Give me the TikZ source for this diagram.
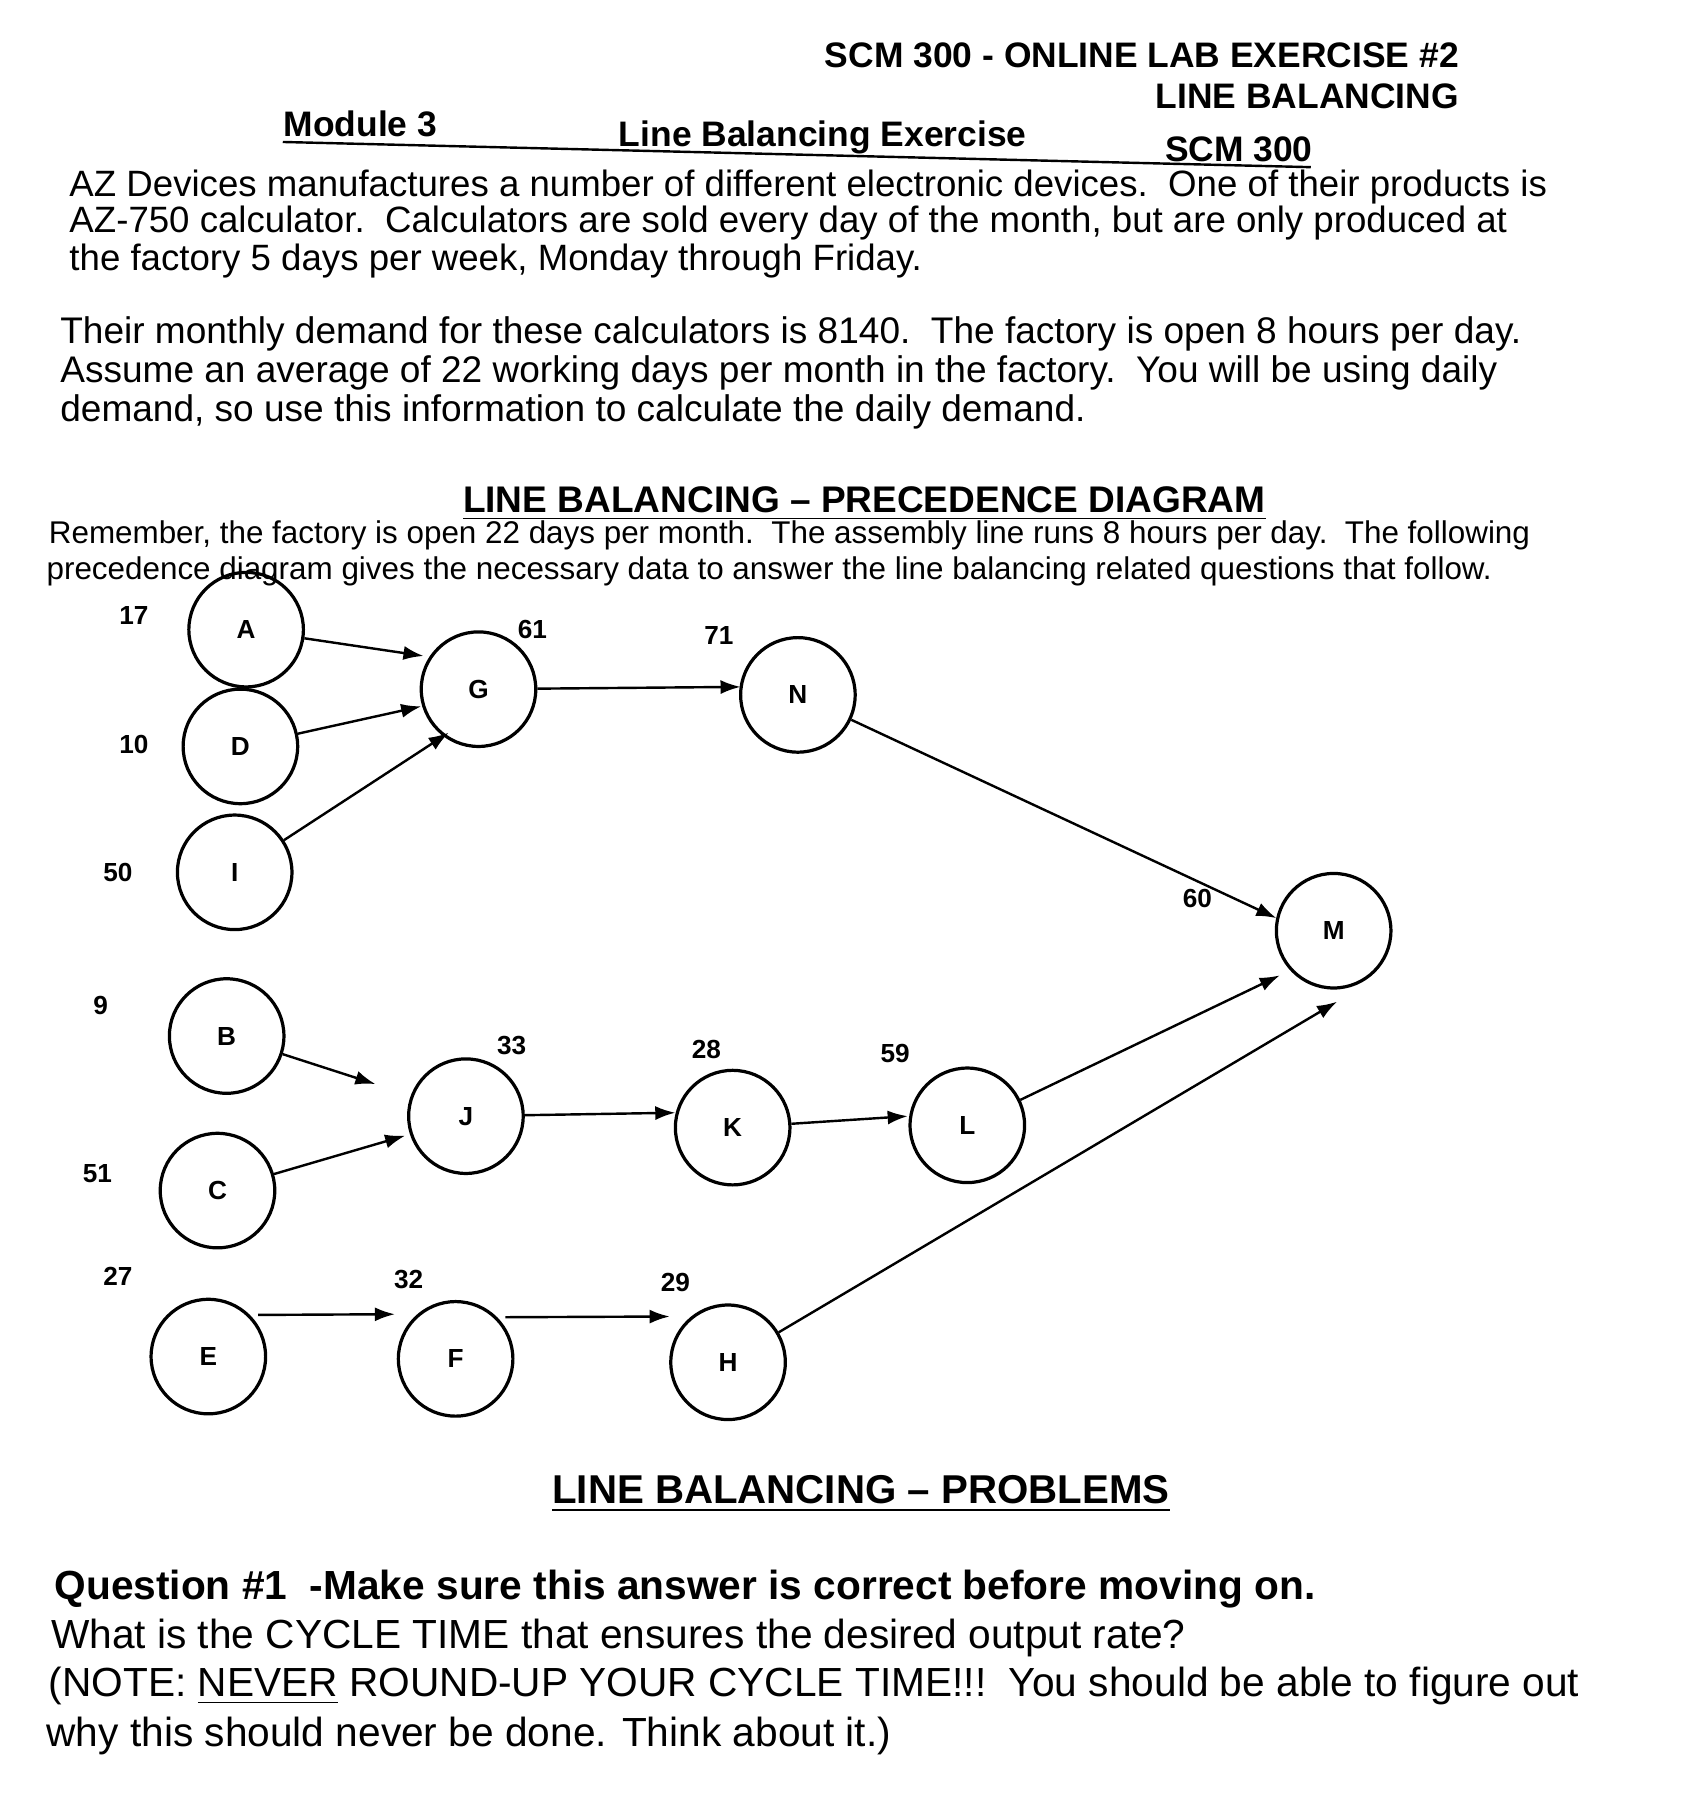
\documentclass[tikz,border=0pt]{standalone}
\usepackage{fontspec}
\setmainfont{Liberation Sans}
\usetikzlibrary{arrows.meta}
\begin{document}
\begin{tikzpicture}[x=0.01cm,y=-0.01cm,
  task/.style={circle,draw,line width=0.8pt,minimum size=1cm,inner sep=0pt,font=\fontsize{6.5}{7}\selectfont\bfseries},
  wt/.style={font=\fontsize{6.5}{7}\selectfont\bfseries},
  arr/.style={-{Latex[length=5pt,width=3.5pt]},line width=0.6pt},
  body/.style={anchor=west,inner sep=0pt,font=\fontsize{9.1}{10}\selectfont},
  hd/.style={inner sep=0pt,font=\fontsize{8.8}{9}\selectfont\bfseries}]
\useasboundingbox[fill=white] (0,0) rectangle (1472,1568);
% header
\node[hd,anchor=east] (t1) at (1275,48) {SCM 300 - ONLINE LAB EXERCISE \#2};
\node[hd,anchor=east] (t2) at (1275,84) {LINE BALANCING};
\node[hd,anchor=west] (m1) at (247,108) {Module 3};
\node[hd,anchor=west] (m2) at (540,120) {Line Balancing Exercise};
\node[hd,anchor=west] (m3) at (1017,130) {SCM 300};
\draw[line width=0.6pt] (247,124) -- (1145,146);
\node[body] (p1) at (60,163) {AZ Devices manufactures a number of different electronic devices.\ \ One of their products is};
\node[body] (p2) at (60,195) {AZ-750 calculator.\ \ Calculators are sold every day of the month, but are only produced at};
\node[body] (p3) at (60,228) {the factory 5 days per week, Monday through Friday.};
\node[body,font=\fontsize{9.2}{10}\selectfont] (q1) at (52,292) {Their monthly demand for these calculators is 8140.\ \ The factory is open 8 hours per day.};
\node[body,font=\fontsize{9.2}{10}\selectfont] (q2) at (52,326) {Assume an average of 22 working days per month in the factory.\ \ You will be using daily};
\node[body,font=\fontsize{9.2}{10}\selectfont] (q3) at (52,360) {demand, so use this information to calculate the daily demand.};
\node[hd,font=\fontsize{9.2}{10}\selectfont\bfseries] (h1) at (755,440) {\underline{LINE BALANCING -- PRECEDENCE DIAGRAM}};
\node[body,font=\fontsize{7.8}{8}\selectfont] (r1) at (42,468) {Remember, the factory is open 22 days per month.\ \ The assembly line runs 8 hours per day.\ \ The following};
\node[body,font=\fontsize{7.8}{8}\selectfont] (r2) at (40,499) {precedence diagram gives the necessary data to answer the line balancing related questions that follow.};
% nodes
\node[task] (A) at (215,550) {A};
\node[task] (D) at (210,652) {D};
\node[task] (I) at (205,762) {I};
\node[task] (G) at (418,602) {G};
\node[task] (N) at (697,607) {N};
\node[task] (M) at (1165,813) {M};
\node[task] (B) at (198,905) {B};
\node[task] (J) at (407,975) {J};
\node[task] (K) at (640,985) {K};
\node[task] (L) at (845,983) {L};
\node[task] (C) at (190,1040) {C};
\node[task] (E) at (182,1185) {E};
\node[task] (F) at (398,1187) {F};
\node[task] (H) at (636,1190) {H};
% weights
\node[wt] (wA) at (117,538) {17};
\node[wt] (wD) at (117,650) {10};
\node[wt] (wI) at (103,762) {50};
\node[wt] (wG) at (465,550) {61};
\node[wt] (wN) at (628,555) {71};
\node[wt] (wM) at (1046,785) {60};
\node[wt] (wB) at (88,878) {9};
\node[wt] (wJ) at (447,913) {33};
\node[wt] (wK) at (617,917) {28};
\node[wt] (wL) at (782,920) {59};
\node[wt] (wC) at (85,1025) {51};
\node[wt] (wE) at (103,1115) {27};
\node[wt] (wF) at (357,1118) {32};
\node[wt] (wH) at (590,1120) {29};
% arrow targets
\coordinate (tAG) at (370,573);
\coordinate (tDG) at (368,617);
\coordinate (tIG) at (392,640);
\coordinate (tGN) at (647,600);
\coordinate (tNM) at (1115,802);
\coordinate (tBJ) at (328,947);
\coordinate (tCJ) at (354,992);
\coordinate (tJK) at (590,972);
\coordinate (tKL) at (793,975);
\coordinate (tLM) at (1118,852);
\coordinate (tEF) at (345,1148);
\coordinate (tFH) at (585,1150);
\coordinate (tHM) at (1168,875);
\draw[arr] (A) -- (tAG);
\draw[arr] (D) -- (tDG);
\draw[arr] (I) -- (tIG);
\draw[arr] (G) -- (tGN);
\draw[arr] (N) -- (tNM);
\draw[arr] (B) -- (tBJ);
\draw[arr] (C) -- (tCJ);
\draw[arr] (J) -- (tJK);
\draw[arr] (K) -- (tKL);
\draw[arr] (L) -- (tLM);
\draw[arr] ([xshift=2pt]E.north east) -- (tEF);
\draw[arr] ([xshift=2pt]F.north east) -- (tFH);
\draw[arr] (H) -- (tHM);
% problems
\node[hd,font=\fontsize{10}{11}\selectfont\bfseries] (h2) at (752,1305) {\underline{LINE BALANCING -- PROBLEMS}};
\node[body,font=\fontsize{10.1}{11}\selectfont\bfseries] (s1) at (47,1388) {Question \#1\ \ -Make sure this answer is correct before moving on.};
\node[body,font=\fontsize{10.1}{11}\selectfont] (s2) at (44,1431) {What is the CYCLE TIME that ensures the desired output rate?};
\node[body,font=\fontsize{10.1}{11}\selectfont] (s3) at (42,1473) {(NOTE: \underline{NEVER} ROUND-UP YOUR CYCLE TIME!!!\ \ You should be able to figure out};
\node[body,font=\fontsize{10.1}{11}\selectfont] (s4) at (40,1516) {why this should never be done. Think about it.)};
\end{tikzpicture}
\end{document}
